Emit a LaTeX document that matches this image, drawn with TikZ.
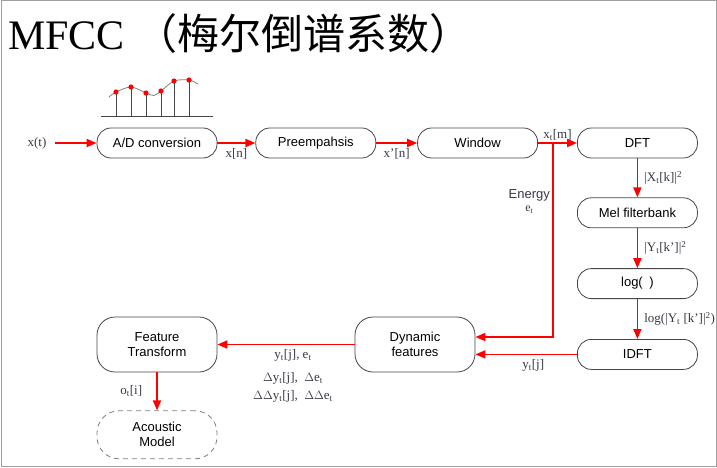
\documentclass[tikz,border=0pt]{standalone}
\usepackage{fontspec}
\setmainfont{Liberation Serif}
\newfontfamily\boxfont{Liberation Sans}
\newfontfamily\cjk{Noto Sans CJK SC}
\usetikzlibrary{positioning,arrows.meta}
\definecolor{boxline}{RGB}{70,70,70}
\definecolor{labelgray}{RGB}{55,55,70}
\definecolor{framegray}{RGB}{160,160,160}

\begin{document}
\begin{tikzpicture}[x=1pt, y=1pt, >={Triangle[length=10pt,width=8pt]}]
    \tikzstyle{stage} = [draw=boxline, line width=0.8pt, rectangle, rounded corners=14pt, fill=white, minimum width=120pt, minimum height=30pt, font=\boxfont\fontsize{13}{15}\selectfont, inner sep=2pt]
    \tikzstyle{bigstage} = [stage, minimum height=55pt, rounded corners=18pt, align=center]
    \tikzstyle{model} = [bigstage, draw=gray, dash pattern=on 5pt off 4pt, minimum height=48pt, rounded corners=22pt]
    \tikzstyle{flow} = [->, draw=red, line width=1.8pt]
    \tikzstyle{sig} = [font=\fontsize{13}{15}\selectfont, text=labelgray, inner sep=2pt]

    \useasboundingbox (0,0) rectangle (717,-468);
    \draw[framegray, line width=1pt] (1,-1) rectangle (716,-466);

    \node[anchor=base west, inner sep=0pt] (title) at (8,-50) {\fontsize{42}{42}\selectfont MFCC \cjk （梅尔倒谱系数）};

    % sampled signal over the A/D box
    \draw[gray, line width=0.8pt] plot[smooth] coordinates {(109,-97) (116,-92) (131,-87) (146,-93) (154,-95.5) (161,-91) (174,-81) (189,-80) (198,-84)};
    \draw[boxline, line width=1pt] (101,-117) -- (213,-117);
    \foreach \sx/\sy in {116/92, 131/87, 146/93, 161/91, 174/81, 189/80} {
        \draw[boxline, line width=1pt] (\sx,-117) -- (\sx,-\sy);
        \fill[red] (\sx,-\sy) circle (2.6pt);
    }

    \node[sig, inner xsep=8pt] (xt) at (37,-143) {x(t)};
    \node[stage] (ad) at (157,-143) {A/D conversion};
    \node[stage, right=38pt of ad] (pre) {Preempahsis};
    \node[stage, right=41pt of pre] (win) {Window};
    \node[stage, right=39pt of win] (dft) {DFT};
    \node[stage, below=39pt of dft] (mel) {Mel filterbank};
    \node[stage, below=40pt of mel] (log) {log(\enspace)};
    \node[stage, below=40pt of log] (idft) {IDFT};
    \node[bigstage] (dyn) at (415,-344.5) {Dynamic\\features};
    \node[bigstage] (ft) at (157,-344.5) {Feature\\Transform};
    \node[model, below=38pt of ft] (am) {Acoustic\\Model};

    \draw[flow] (xt) -- (ad);
    \draw[flow] (ad) -- node[sig, below=3pt] {x[n]} (pre);
    \draw[flow] (pre) -- node[sig, below=3pt] {x’[n]} (win);
    \draw[flow] (win) -- node[sig, above] {x\textsubscript{t}[m]} node[coordinate, pos=0.38] (split) {} (dft);
    \draw[flow] (split) |- node[pos=0.15, left=2pt, align=center, text=labelgray, inner sep=0pt] {{\boxfont\fontsize{13}{15}\selectfont Energy}\\[1pt]{\fontsize{12}{14}\selectfont e\textsubscript{t}}} ([yshift=7.5pt]dyn.east);
    \draw[flow] (dft) -- node[sig, right=4pt] {|X\textsubscript{t}[k]|\textsuperscript{2}} (mel);
    \draw[flow] (mel) -- node[sig, right=4pt] {|Y\textsubscript{t}[k’]|\textsuperscript{2}} (log);
    \draw[flow] (log) -- node[sig, right=4pt] {log(|Y\textsubscript{t} [k’]|\textsuperscript{2})} (idft);
    \draw[flow] (idft) -- node[sig, below=2pt, xshift=7pt] {y\textsubscript{t}[j]} (idft -| dyn.east);
    \draw[flow] (dyn) -- node[sig, below=2pt, xshift=7pt, align=center] {y\textsubscript{t}[j], e\textsubscript{t}\\[8pt] $\Delta$y\textsubscript{t}[j],\enspace$\Delta$e\textsubscript{t}\\[3pt] $\Delta\Delta$y\textsubscript{t}[j],\enspace$\Delta\Delta$e\textsubscript{t}} (ft);
    \draw[flow] (ft) -- node[sig, left=12pt] {o\textsubscript{t}[i]} (am);
\end{tikzpicture}
\end{document}
